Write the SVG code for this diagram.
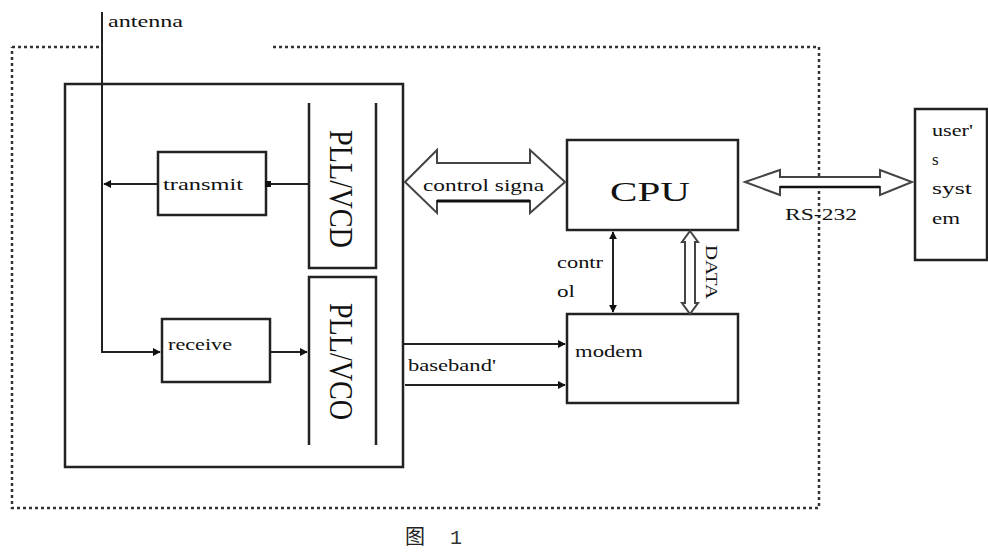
<svg xmlns="http://www.w3.org/2000/svg" width="988" height="552" viewBox="0 0 988 552">
<style>
.t{font-family:"Liberation Serif","DejaVu Serif",serif;font-size:17px;fill:#111}
.box{fill:none;stroke:#222;stroke-width:2.5}
.ln{fill:none;stroke:#222;stroke-width:2}
.dot{fill:none;stroke:#333;stroke-width:2.5;stroke-dasharray:3 3}
.barrow{fill:#fff;stroke:#444;stroke-width:2}
</style>
<defs>
<marker id="ah" viewBox="0 0 10 10" refX="9" refY="5" markerWidth="4" markerHeight="4" orient="auto-start-reverse">
<path d="M0,0 L10,5 L0,10 z" fill="#111"/>
</marker>
<marker id="sq" viewBox="0 0 10 10" refX="5" refY="5" markerWidth="3" markerHeight="3" orient="auto">
<rect x="0" y="0" width="10" height="10" fill="#111"/>
</marker>
</defs>
<rect width="988" height="552" fill="#fff"/>
<g id="boundary">
<path class="dot" d="M12,47 H103 M273,47 H819 V508 H12 V47"/>
</g>
<g id="radio-block">
<rect class="box" x="65" y="84" width="338" height="383"/>
</g>
<g id="transmit">
<rect class="box" x="158" y="152" width="108" height="63"/>
<text class="t" x="163" y="190" textLength="80" lengthAdjust="spacingAndGlyphs">transmit</text>
</g>
<g id="receive">
<rect class="box" x="162" y="319" width="108" height="63"/>
<text class="t" x="168" y="350" textLength="64" lengthAdjust="spacingAndGlyphs">receive</text>
</g>
<g id="pll-vcd">
<path class="box" d="M309,103 V268 H376 V103"/>
<text class="t" style="font-size:34px" transform="translate(330,130) rotate(90)" textLength="118" lengthAdjust="spacingAndGlyphs">PLL/VCD</text>
</g>
<g id="pll-vco">
<path class="box" d="M309,445 V277 H376 V445"/>
<text class="t" style="font-size:34px" transform="translate(330,303) rotate(90)" textLength="117" lengthAdjust="spacingAndGlyphs">PLL/VCO</text>
</g>
<g id="cpu">
<rect class="box" x="567" y="140" width="171" height="90"/>
<text class="t" style="font-size:27px" x="610" y="201" textLength="80" lengthAdjust="spacingAndGlyphs">CPU</text>
</g>
<g id="modem">
<rect class="box" x="567" y="314" width="171" height="89"/>
<text class="t" x="575" y="357" textLength="68" lengthAdjust="spacingAndGlyphs">modem</text>
</g>
<g id="users-system">
<rect class="box" x="915" y="109" width="72" height="151"/>
<text class="t" x="932" y="136" textLength="41" lengthAdjust="spacingAndGlyphs">user'</text>
<text class="t" x="932" y="165">s</text>
<text class="t" x="932" y="194" textLength="40" lengthAdjust="spacingAndGlyphs">syst</text>
<text class="t" x="932" y="224" textLength="28" lengthAdjust="spacingAndGlyphs">em</text>
</g>
<g id="connectors">
<path class="ln" d="M102,12 V352 H160" marker-end="url(#ah)"/>
<path class="ln" d="M158,184 H104" marker-end="url(#ah)"/>
<path class="ln" d="M309,184 H268" marker-end="url(#sq)"/>
<path class="ln" d="M270,352 H307" marker-end="url(#ah)" stroke-width="2.5"/>
<polygon class="barrow" points="405,182 437,150 437,163 530,163 530,150 565,182 530,213 530,201 437,201 437,213"/>
<polygon class="barrow" points="745,182 780,170 780,177 880,177 880,170 912,182 880,195 880,187 780,187 780,195"/>
<line x1="780" y1="187" x2="880" y2="187" stroke="#111" stroke-width="2.5"/>
<line x1="437" y1="201" x2="530" y2="201" stroke="#111" stroke-width="3"/>
<path class="ln" d="M613,232 V312" stroke="#777" marker-start="url(#ah)" marker-end="url(#ah)"/>
<polygon class="barrow" points="690,231 698,242 695,242 695,303 698,303 690,314 682,303 685,303 685,242 682,242"/>
<path class="ln" d="M403,344 H565" stroke="#666" marker-end="url(#ah)"/>
<path class="ln" d="M405,385 H565" stroke-width="3" marker-end="url(#ah)"/>
</g>
<g id="labels">
<text class="t" x="108" y="27" textLength="75" lengthAdjust="spacingAndGlyphs">antenna</text>
<text class="t" x="423" y="191" textLength="121" lengthAdjust="spacingAndGlyphs">control signa</text>
<text class="t" x="557" y="268" textLength="46" lengthAdjust="spacingAndGlyphs">contr</text>
<text class="t" x="557" y="297" textLength="18" lengthAdjust="spacingAndGlyphs">ol</text>
<text class="t" style="font-size:16px" transform="translate(706,245) rotate(90)" textLength="54" lengthAdjust="spacingAndGlyphs">DATA</text>
<text class="t" x="408" y="371" textLength="88" lengthAdjust="spacingAndGlyphs">baseband'</text>
<text class="t" x="785" y="220" textLength="72" lengthAdjust="spacingAndGlyphs">RS-232</text>
<text style="font-family:'Noto Sans CJK SC',sans-serif;font-size:20px;fill:#222" x="405" y="544">图</text>
<text style="font-family:'Liberation Mono',monospace;font-size:20px;fill:#333" x="450" y="544">1</text>
</g>
</svg>
